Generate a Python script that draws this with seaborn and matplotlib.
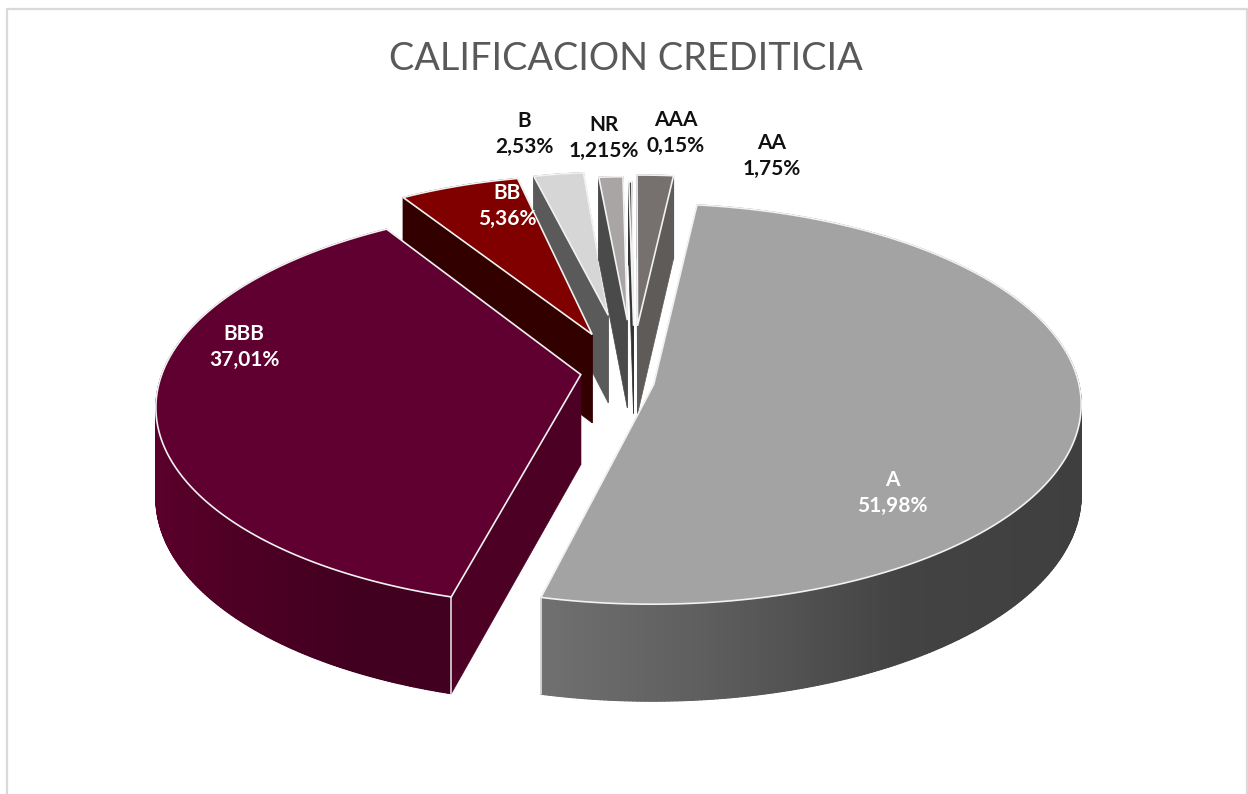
import numpy as np
import matplotlib
matplotlib.use('Agg')
import matplotlib.pyplot as plt
import seaborn as sns
from matplotlib.collections import PolyCollection

categories = ['A', 'BBB', 'BB', 'B', 'NR', 'AAA', 'AA']
shares = [51.98, 37.01, 5.36, 2.53, 1.215, 0.15, 1.75]
share_labels = ['51,98%', '37,01%', '5,36%', '2,53%', '1,215%', '0,15%', '1,75%']

sns.set_theme(style='white')
plt.rcParams['font.family'] = ['Lato', 'DejaVu Sans']

# look of each slice, same order as the categories
explode = [0.042, 0.109, 0.27, 0.38, 0.35, 0.32, 0.32]
shrink = [1, 1, 0.91, 0.8, 0.8, 0.8, 0.84]
turn = [0, 2.7, 1.8, -0.3, -0.8, -0.8, -1.2]
tip_nudge = [(3, -5), (-6, -17), (4, -5), (0, 0), (0, 0), (0, 0), (-4, 0)]
top_colors = ['#a3a3a3', '#600030', '#800000', '#d6d6d6', '#a9a5a5', '#4a4a4a', '#76716f']
wall_colors = ['#6e6e6e', '#4c0024', '#330000', '#5a5a5a', '#4a4a4a', '#333333', '#5f5b59']
arc_colors = [['#707070', '#5c5c5c', '#434343', '#3f3f3f'],
              ['#5a002b', '#4c0024', '#420020', '#420020'],
              ['#330000', '#330000'], ['#5a5a5a', '#5a5a5a'], ['#4a4a4a', '#4a4a4a'],
              ['#333333', '#333333'], ['#5f5b59', '#5f5b59']]
label_xy = [(892, 493), (244, 347), (507, 206), (524, 134), (604, 138), (676, 133), (772, 156)]
label_colors = ['white', 'white', 'white', '#111111', '#111111', '#111111', '#111111']

# pie plane to pixels
cx, cy = 633, 388
rx, ry = 429, 199
persp = 0.072
depth = 90


def project(x, y):
    s = 1 / (1 + persp * y)
    return cx + rx * x * s, cy - ry * y * s, depth * s


fig = plt.figure(figsize=(12.48, 7.94), dpi=100)
ax = fig.add_axes([0, 0, 1, 1])
wedges, _ = ax.pie(shares, explode=explode, startangle=83.2, counterclock=False)
geometry = [(w.center, w.theta1, w.theta2) for w in wedges]
for w in wedges:
    w.remove()

ax.set_aspect('auto')
ax.set_xlim(0, 1248)
ax.set_ylim(794, 0)
ax.axis('off')

ax.plot([7, 7, 1247, 1247], [794, 9, 9, 794], color='#d9d9d9', lw=1.6, clip_on=False)

# back slices first, the two big ones last
for z, i in enumerate([3, 4, 5, 6, 2, 1, 0], start=2):
    (x0, y0), t1, t2 = geometry[i]
    ang = np.radians(np.linspace(t1, t2, max(int(t2 - t1) * 2, 8)) - turn[i])
    r = shrink[i]
    xs = np.r_[x0, x0 + r * np.cos(ang)]
    ys = np.r_[y0, y0 + r * np.sin(ang)]
    px, py, d = project(xs, ys)
    px[0] += tip_nudge[i][0]
    py[0] += tip_nudge[i][1]
    top = np.c_[px, py]
    low = np.c_[px, py + d]

    # radial walls
    for j in [1, len(px) - 1]:
        quad = [top[0], top[j], low[j], low[0]]
        ax.fill(*zip(*quad), facecolor=wall_colors[i], edgecolor=wall_colors[i], lw=0.5, zorder=z)

    # outer wall, shaded from left to right, on a solid backing so no seams show
    back = np.r_[top[1:], low[1:][::-1]]
    ax.fill(back[:, 0], back[:, 1], facecolor=wall_colors[i], lw=0, zorder=z)
    cmap = sns.blend_palette(arc_colors[i], as_cmap=True)
    quads = [[top[j], top[j + 1], low[j + 1], low[j]] for j in range(1, len(px) - 1)]
    mids = (px[1:-1] + px[2:]) / 2
    span = max(np.ptp(mids), 1)
    cols = cmap((mids - mids.min()) / span)
    ax.add_collection(PolyCollection(quads, facecolors=cols, edgecolors=cols, linewidths=0.8, zorder=z))

    # white edge on the front corner of the walls
    for j in [1, len(px) - 1]:
        if i in (0, 1) and py[j] > cy:
            ax.plot([px[j], px[j]], [py[j], low[j, 1]], color='#eeeeee', lw=1.1, zorder=z)

    ax.fill(px, py, facecolor=top_colors[i], edgecolor='#f2f2f2', lw=1.2, zorder=z)

for name, pct, (lx, ly), col in zip(categories, share_labels, label_xy, label_colors):
    ax.text(lx, ly, name + '\n' + pct, color=col, fontsize=15, fontweight='bold',
            ha='center', va='center', linespacing=1.42, zorder=20)

ax.text(626, 59, 'CALIFICACION CREDITICIA', color='#595959', fontsize=27.3,
        ha='center', va='center', zorder=20)

fig.savefig('out.png', dpi=100, facecolor='white')
